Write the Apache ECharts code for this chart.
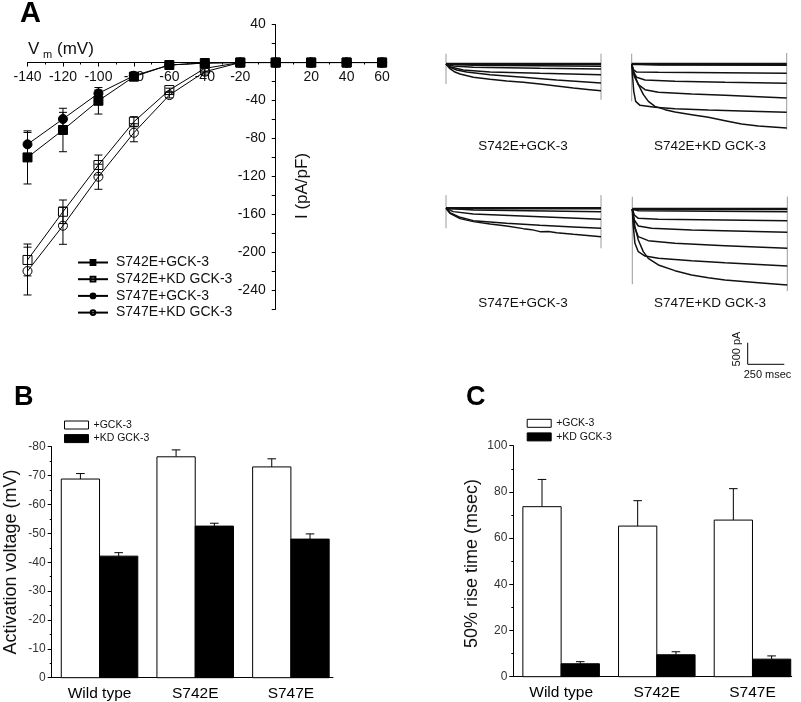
<!DOCTYPE html>
<html>
<head>
<meta charset="utf-8">
<script src="https://cdn.jsdelivr.net/npm/echarts@6/dist/echarts.min.js"></script>
<style>html,body{margin:0;padding:0;background:#fff}#chart{width:801px;height:702px}</style>
</head>
<body>
<div id="chart"></div>
<script>
// ---------- Panel A: I-V data ----------
const ivVoltages = [-140, -120, -100, -80, -60, -40, -20, 0, 20, 40, 60];
const s742eGck3 = [-100, -71.1, -40.3, -14.9, -2.6, -0.5, 0, 0, 0, 0, 0];
const s742eGck3Err = [28, 22.9, 14, 3, 1, 0.5, 0, 0, 0, 0, 0];
const s742eKdGck3 = [-208.1, -157.3, -108, -62.4, -29, -6.1, 0, 0, 0, 0, 0];
const s742eKdGck3Err = [16.8, 12.4, 10.5, 5.3, 2, 3, 1, 1, 1, 1, 1];
const s747eGck3 = [-86.2, -59.5, -32.5, -13.9, -2.6, -0.5, 0, 0, 0, 0, 0];
const s747eGck3Err = [12.5, 7, 3.5, 3, 1, 0.5, 0, 0, 0, 0, 0];
const s747eKdGck3 = [-219.8, -172, -120.4, -74, -34.3, -9.7, 0, 0, 0, 0, 0];
const s747eKdGck3Err = [25.2, 19.6, 13.2, 9.5, 3, 3.5, 1, 1, 1, 1, 1];
const ivSeriesNames = ['S742E+GCK-3', 'S742E+KD GCK-3', 'S747E+GCK-3', 'S747E+KD GCK-3'];

// ---------- Panel A: current traces ([ms, pA]) ----------
const tracesS742eGck3 = [
  [[0,0],[1059,0]],
  [[0,0],[187,-25],[1059,-44]],
  [[0,0],[50,-38],[187,-63],[642,-82],[1059,-95]],
  [[0,0],[39,-63],[118,-114],[301,-152],[642,-177],[1059,-203]],
  [[0,0],[27,-63],[73,-114],[141,-152],[301,-203],[528,-253],[756,-304],[1059,-361]],
  [[0,0],[27,-89],[61,-152],[96,-190],[187,-253],[301,-291],[415,-323],[528,-348],[642,-380],[756,-418],[870,-456],[984,-487],[1059,-507]]
];
const stepsS742eGck3 = [[[0,196],[0,-380]], [[1059,196],[1059,-679]]];

const tracesS742eKdGck3 = [
  [[0,0],[1059,0]],
  [[0,0],[182,-19],[1059,-25]],
  [[0,0],[11,-108],[34,-152],[182,-158],[1059,-177]],
  [[0,0],[11,-139],[34,-253],[91,-304],[296,-329],[638,-348],[1059,-367]],
  [[0,0],[18,-234],[46,-392],[91,-487],[182,-538],[410,-570],[638,-595],[865,-620],[1059,-646]],
  [[0,0],[5,-203],[14,-519],[27,-709],[57,-785],[159,-823],[296,-848],[524,-874],[751,-893],[1059,-918]],
  [[0,0],[18,-203],[46,-392],[80,-582],[114,-709],[159,-804],[228,-867],[296,-911],[410,-962],[524,-1013],[638,-1076],[751,-1139],[865,-1177],[1059,-1215]]
];
const stepsS742eKdGck3 = [[[0,196],[0,-709]], [[1059,209],[1059,-1247]]];

const tracesS747eGck3 = [
  [[0,0],[1059,0]],
  [[0,0],[187,-32],[1059,-63]],
  [[0,0],[50,-63],[187,-108],[642,-158],[1059,-209]],
  [[0,0],[27,-82],[96,-171],[187,-234],[414,-285],[642,-323],[870,-354],[1059,-380]],
  [[0,0],[27,-95],[96,-196],[187,-253],[301,-298],[414,-335],[528,-386],[585,-405],[642,-443],[700,-440],[756,-462],[870,-494],[984,-519],[1059,-538]]
];
const stepsS747eGck3 = [[[0,250],[0,-380]], [[1059,250],[1059,-760]]];

const tracesS747eKdGck3 = [
  [[0,0],[1059,0]],
  [[0,0],[41,-32],[1059,-51]],
  [[0,0],[14,-114],[41,-177],[178,-196],[1059,-222]],
  [[0,0],[14,-209],[41,-323],[132,-367],[405,-399],[1059,-443]],
  [[0,0],[14,-335],[41,-525],[109,-601],[291,-652],[633,-696],[1059,-747]],
  [[0,0],[5,-272],[18,-652],[41,-810],[87,-893],[178,-937],[405,-981],[633,-1019],[1059,-1082]],
  [[0,0],[18,-335],[41,-589],[75,-810],[109,-937],[178,-1063],[291,-1171],[405,-1253],[519,-1304],[633,-1348],[861,-1399],[1059,-1443]]
];
const stepsS747eKdGck3 = [[[0,234],[0,-1430]], [[1059,234],[1059,-1560]]];

const traceLabels = ['S742E+GCK-3', 'S742E+KD GCK-3', 'S747E+GCK-3', 'S747E+KD GCK-3'];
const scaleBar = [[0, 500], [0, 0], [250, 0]];   // 500 pA, 250 msec
const scaleLabels = ['500 pA', '250 msec'];

// ---------- Panels B and C ----------
const barCategories = ['Wild type', 'S742E', 'S747E'];
const barSeriesNames = ['+GCK-3', '+KD GCK-3'];
const activationGck3 = [-68.8, -76.5, -73.0];
const activationGck3Err = [1.9, 2.4, 2.8];
const activationKd = [-42.1, -52.5, -48.0];
const activationKdErr = [1.2, 1.0, 1.8];
const riseGck3 = [73.6, 65.2, 67.8];
const riseGck3Err = [11.8, 11.0, 13.6];
const riseKd = [5.6, 9.5, 7.6];
const riseKdErr = [0.9, 1.3, 1.4];

// ---------- building ----------
const FONT = "'Liberation Sans', Arial, Helvetica, sans-serif";
const chart = echarts.init(document.getElementById('chart'), null, {renderer: 'canvas'});

function errorBars(values, errs, xs) {
  return {
    type: 'custom', xAxisIndex: 0, yAxisIndex: 0, z: 6, silent: true,
    data: xs.map((x, i) => [x, values[i], errs[i]]),
    renderItem: function (params, api) {
      const x = api.value(0), y = api.value(1), e = api.value(2);
      const t = api.coord([x, y + e]), b = api.coord([x, y - e]);
      const hw = 4;
      const st = {stroke: '#000', lineWidth: 1};
      return {type: 'group', children: [
        {type: 'line', shape: {x1: t[0], y1: t[1], x2: b[0], y2: b[1]}, style: st},
        {type: 'line', shape: {x1: t[0] - hw, y1: t[1], x2: t[0] + hw, y2: t[1]}, style: st},
        {type: 'line', shape: {x1: b[0] - hw, y1: b[1], x2: b[0] + hw, y2: b[1]}, style: st}
      ]};
    }
  };
}

function ivLine(name, values, symbol, filled) {
  return {
    name: name, type: 'line', xAxisIndex: 0, yAxisIndex: 0, z: 5,
    data: ivVoltages.map((v, i) => [v, values[i]]),
    symbol: symbol, symbolSize: 9, showSymbol: true,
    lineStyle: {color: '#000', width: 1},
    itemStyle: filled ? {color: '#000', borderColor: '#000', borderWidth: 1}
                      : {color: 'rgba(255,255,255,0)', borderColor: '#000', borderWidth: 1},
    emphasis: {disabled: true}
  };
}

const BAR_W = 0.4;
function barSeries(name, axisIdx, values, errs, offset, fill) {
  return {
    name: name, type: 'custom', xAxisIndex: axisIdx, yAxisIndex: axisIdx, z: 4,
    itemStyle: {color: fill, borderColor: '#000', borderWidth: 1},
    data: values.map((v, i) => [i + 1, v, errs[i]]),
    renderItem: function (params, api) {
      const x = api.value(0), v = api.value(1), e = api.value(2);
      const a = api.coord([x + offset, 0]);
      const b = api.coord([x + offset + BAR_W, v]);
      const sign = v < 0 ? -1 : 1;
      const m = api.coord([x + offset + BAR_W / 2, v]);
      const tip = api.coord([x + offset + BAR_W / 2, v + sign * e]);
      const st = {stroke: '#000', lineWidth: 1};
      return {type: 'group', children: [
        {type: 'line', shape: {x1: m[0], y1: m[1], x2: tip[0], y2: tip[1]}, style: st},
        {type: 'line', shape: {x1: tip[0] - 4.3, y1: tip[1], x2: tip[0] + 4.3, y2: tip[1]}, style: st},
        {type: 'rect', shape: {x: Math.min(a[0], b[0]), y: Math.min(a[1], b[1]),
          width: Math.abs(b[0] - a[0]), height: Math.abs(b[1] - a[1])},
          style: {fill: fill, stroke: '#000', lineWidth: 1}}
      ]};
    }
  };
}

// trace grid placement (layout only)
const traceGridPos = [
  {left: 446, top: 42.95}, {left: 631.7, top: 42.95},
  {left: 446, top: 187.25}, {left: 632.3, top: 187.95},
  {left: 747.7, top: 343.25}
];
const traceSets = [tracesS742eGck3, tracesS742eKdGck3, tracesS747eGck3, tracesS747eKdGck3];
const stepSets = [stepsS742eGck3, stepsS742eKdGck3, stepsS747eGck3, stepsS747eKdGck3];

// IV grid: zero lines cross inside the plot, axes shifted there via offset
const ivGrid = {left: 27.5, top: 24.6, width: 354.6, height: 284.6, outerBoundsMode: 'none'};
const ivX = {min: -140, max: 60}, ivY = {min: -260, max: 40};
const xZeroOffset = -ivGrid.height * (0 - ivY.min) / (ivY.max - ivY.min);
const yZeroOffset = -ivGrid.width * (0 - ivX.min) / (ivX.max - ivX.min);

const grids = [ivGrid];
const xAxes = [{
  gridIndex: 0, type: 'value', min: ivX.min, max: ivX.max, interval: 20,
  position: 'bottom', offset: xZeroOffset,
  axisLine: {show: true, onZero: false, lineStyle: {color: '#000', width: 1}},
  axisTick: {show: true, length: 4, lineStyle: {color: '#000'}},
  minorTick: {show: true, splitNumber: 2, length: 2, lineStyle: {color: '#000'}},
  splitLine: {show: false},
  axisLabel: {fontSize: 14, color: '#111', fontFamily: FONT, margin: 8,
    formatter: v => v === 0 ? '' : String(v)}
}];
const yAxes = [{
  gridIndex: 0, type: 'value', min: ivY.min, max: ivY.max, interval: 20,
  position: 'left', offset: yZeroOffset,
  axisLine: {show: true, onZero: false, lineStyle: {color: '#000', width: 1}},
  axisTick: {show: true, length: 4, lineStyle: {color: '#000'}},
  splitLine: {show: false},
  axisLabel: {fontSize: 14, color: '#111', fontFamily: FONT, margin: 10,
    formatter: v => (v !== 0 && v % 40 === 0) ? String(v) : ''}
}];

const series = [
  ivLine(ivSeriesNames[0], s742eGck3, 'rect', true),
  ivLine(ivSeriesNames[1], s742eKdGck3, 'rect', false),
  ivLine(ivSeriesNames[2], s747eGck3, 'circle', true),
  ivLine(ivSeriesNames[3], s747eKdGck3, 'circle', false),
  errorBars(s742eGck3, s742eGck3Err, ivVoltages),
  errorBars(s742eKdGck3, s742eKdGck3Err, ivVoltages),
  errorBars(s747eGck3, s747eGck3Err, ivVoltages),
  errorBars(s747eKdGck3, s747eKdGck3Err, ivVoltages)
];

traceGridPos.forEach((p, k) => {
  const gi = k + 1;
  grids.push({left: p.left, top: p.top, width: 155, height: 105.3, outerBoundsMode: 'none'});
  xAxes.push({gridIndex: gi, type: 'value', min: 0, max: 1059, show: false});
  yAxes.push({gridIndex: gi, type: 'value', min: -1600, max: 400, show: false});
  if (k < 4) {
    stepSets[k].forEach(s => series.push({
      type: 'line', xAxisIndex: gi, yAxisIndex: gi, data: s, symbol: 'none', silent: true,
      lineStyle: {color: '#9a9a9a', width: 1}, z: 2
    }));
    traceSets[k].forEach((tr, j) => series.push({
      type: 'line', xAxisIndex: gi, yAxisIndex: gi, data: tr, symbol: 'none', silent: true,
      lineStyle: {color: '#111', width: j === 0 ? 2.4 : 1.5}, z: 3
    }));
  } else {
    series.push({
      type: 'line', xAxisIndex: gi, yAxisIndex: gi, data: scaleBar, symbol: 'none', silent: true,
      lineStyle: {color: '#000', width: 1}, z: 3
    });
  }
});

// Panel B (grid 6) and C (grid 7)
grids.push({left: 51.7, top: 446.7, width: 281.3, height: 231, outerBoundsMode: 'none'});
grids.push({left: 513.3, top: 445.7, width: 278.4, height: 231, outerBoundsMode: 'none'});
function catXAxis(gi, max) {
  return {gridIndex: gi, type: 'value', min: 0.5, max: max,
    axisLine: {show: true, onZero: false, lineStyle: {color: '#000'}},
    axisTick: {show: false}, splitLine: {show: false},
    axisLabel: {customValues: [1, 2, 3], formatter: v => barCategories[Math.round(v) - 1] || '',
      fontSize: 15.5, color: '#000', fontFamily: FONT, margin: 8}};
}
xAxes.push(catXAxis(6, 3.44));
xAxes.push(catXAxis(7, 3.41));
yAxes.push({gridIndex: 6, type: 'value', inverse: true, min: -80, max: 0, interval: 10,
  axisLine: {show: true, lineStyle: {color: '#000'}},
  axisTick: {show: true, length: 4, lineStyle: {color: '#000'}},
  minorTick: {show: true, splitNumber: 2, length: 2, lineStyle: {color: '#000'}},
  splitLine: {show: false},
  axisLabel: {fontSize: 12, color: '#333', fontFamily: FONT, margin: 6}});
yAxes.push({gridIndex: 7, type: 'value', min: 0, max: 100, interval: 20,
  axisLine: {show: true, lineStyle: {color: '#000'}},
  axisTick: {show: true, length: 4, lineStyle: {color: '#000'}},
  minorTick: {show: true, splitNumber: 2, length: 2, lineStyle: {color: '#000'}},
  splitLine: {show: false},
  axisLabel: {fontSize: 12, color: '#333', fontFamily: FONT, margin: 6}});

series.push(barSeries(barSeriesNames[0], 6, activationGck3, activationGck3Err, -BAR_W, '#fff'));
series.push(barSeries(barSeriesNames[1], 6, activationKd, activationKdErr, 0, '#000'));
series.push(barSeries(barSeriesNames[0], 7, riseGck3, riseGck3Err, -BAR_W, '#fff'));
series.push(barSeries(barSeriesNames[1], 7, riseKd, riseKdErr, 0, '#000'));

const barLegendData = [
  {name: barSeriesNames[0], icon: 'rect', itemStyle: {color: '#fff', borderColor: '#000', borderWidth: 1}},
  {name: barSeriesNames[1], icon: 'rect', itemStyle: {color: '#000', borderColor: '#000', borderWidth: 1}}
];
const legends = [
  {orient: 'vertical', left: 72, top: 250.5, itemWidth: 30, itemHeight: 6, itemGap: 2.7,
   selectedMode: false, data: ivSeriesNames,
   textStyle: {fontSize: 14, color: '#111', fontFamily: FONT, lineHeight: 14, padding: [0, 0, 0, 3]}},
  {orient: 'vertical', left: 59, top: 414, itemWidth: 24, itemHeight: 8, itemGap: 1.6,
   selectedMode: false, data: barLegendData,
   textStyle: {fontSize: 10.5, color: '#111', fontFamily: FONT, lineHeight: 12}},
  {orient: 'vertical', left: 521.7, top: 412.3, itemWidth: 24, itemHeight: 8, itemGap: 1.6,
   selectedMode: false, data: barLegendData,
   textStyle: {fontSize: 10.5, color: '#111', fontFamily: FONT, lineHeight: 12}}
];

function txt(text, x, y, size, opts) {
  opts = opts || {};
  return {type: 'text', x: x, y: y, rotation: opts.rot || 0, silent: true, z: 10,
    style: {text: text, fontSize: size, fontFamily: FONT, fontWeight: opts.bold ? 'bold' : 'normal',
      fill: opts.color || '#000', align: opts.align || 'center', verticalAlign: 'middle'}};
}
const graphics = [
  txt('A', 20, 14, 29, {bold: true, align: 'left'}),
  txt('B', 14, 398, 27, {bold: true, align: 'left'}),
  txt('C', 466, 397.5, 27, {bold: true, align: 'left'}),
  txt('V', 28, 49, 17, {align: 'left', color: '#111'}),
  txt('m', 43, 55, 11, {align: 'left', color: '#111'}),
  txt('(mV)', 57, 49, 17, {align: 'left', color: '#111'}),
  txt('I (pA/pF)', 302, 186, 17, {rot: Math.PI / 2, color: '#111'}),
  txt(traceLabels[0], 523, 146.7, 13.5, {color: '#111'}),
  txt(traceLabels[1], 710, 146.7, 13.5, {color: '#111'}),
  txt(traceLabels[2], 523, 303.3, 13.5, {color: '#111'}),
  txt(traceLabels[3], 710, 303.3, 13.5, {color: '#111'}),
  txt(scaleLabels[0], 737, 349, 11, {rot: Math.PI / 2, color: '#111'}),
  txt(scaleLabels[1], 767.5, 375, 11, {color: '#111'}),
  txt('Activation voltage (mV)', 11, 562, 18, {rot: Math.PI / 2, color: '#111'}),
  txt('50% rise time (msec)', 472, 563.5, 18, {rot: Math.PI / 2, color: '#111'})
];

chart.setOption({
  animation: false,
  backgroundColor: '#fff',
  textStyle: {fontFamily: FONT},
  grid: grids,
  xAxis: xAxes,
  yAxis: yAxes,
  legend: legends,
  series: series,
  graphic: {elements: graphics}
});
</script>
</body>
</html>
